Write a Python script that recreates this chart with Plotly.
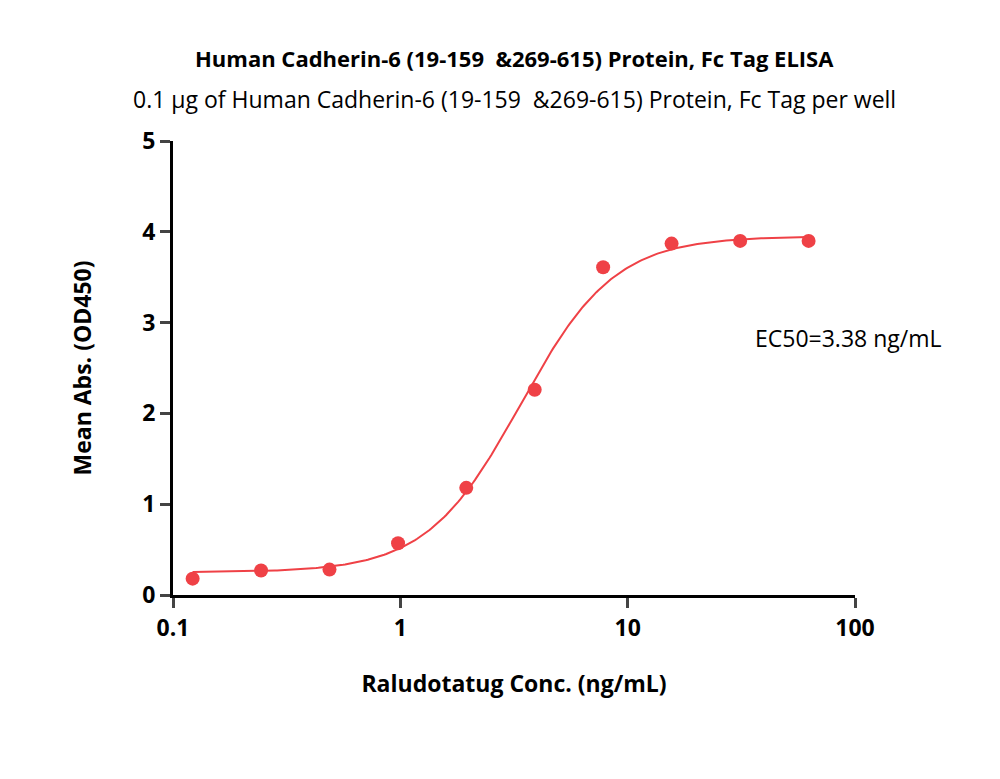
import numpy as np
import plotly.graph_objects as go

conc = [0.122, 0.244, 0.488, 0.977, 1.95, 3.9, 7.8, 15.6, 31.25, 62.5]
od = [0.18, 0.27, 0.28, 0.57, 1.18, 2.26, 3.61, 3.87, 3.90, 3.90]
# 4PL fit parameters
bottom, top, ec50, hill = 0.25, 3.95, 3.38, 2.1

xs = np.logspace(np.log10(0.122), np.log10(62.5), 300)
ys = bottom + (top - bottom) / (1 + (ec50 / xs) ** hill)

red = "#ef4146"
fig = go.Figure()
fig.add_trace(go.Scatter(x=xs, y=ys, mode="lines", line=dict(color=red, width=2), showlegend=False))
fig.add_trace(go.Scatter(x=conc, y=od, mode="markers", marker=dict(color=red, size=14), showlegend=False))

font = "Open Sans"
ph = 779 - 133 - 192
fig.update_layout(
    width=1000, height=779, plot_bgcolor="white", paper_bgcolor="white",
    margin=dict(l=165, r=153, t=133, b=192, autoexpand=False),
    font=dict(family=font, color="black"),
    annotations=[
        dict(text="<b>Human Cadherin-6 (19-159  &269-615) Protein, Fc Tag ELISA</b>", x=0.5, xref="paper",
             y=1 + (133 - 50) / ph, yref="paper", showarrow=False, font=dict(size=22), yanchor="middle"),
        dict(text="0.1 µg of Human Cadherin-6 (19-159  &269-615) Protein, Fc Tag per well", x=0.5, xref="paper",
             y=1 + (133 - 91) / ph, yref="paper", showarrow=False, font=dict(size=23), yanchor="middle"),
        dict(text="EC50=3.38 ng/mL", x=1.97, y=2.83, xref="x", yref="y", showarrow=False,
             font=dict(size=23)),
    ],
    xaxis=dict(type="log", range=[-1, 2], showline=True, linecolor="black", linewidth=3,
               ticks="outside", ticklen=10, tickwidth=3, tickvals=[0.1, 1, 10, 100],
               ticktext=["<b>0.1</b>", "<b>1</b>", "<b>10</b>", "<b>100</b>"],
               tickfont=dict(size=23), showgrid=False, zeroline=False, automargin=False,
               title=dict(text="<b>Raludotatug Conc. (ng/mL)</b>", font=dict(size=23), standoff=35)),
    yaxis=dict(range=[0, 5], showline=True, linecolor="black", linewidth=3,
               ticks="outside", ticklen=10, tickwidth=3, tickvals=[0, 1, 2, 3, 4, 5],
               ticktext=["<b>%d</b>" % v for v in range(6)],
               tickfont=dict(size=23), showgrid=False, zeroline=False, automargin=False,
               title=dict(text="<b>Mean Abs. (OD450)</b>", font=dict(size=23), standoff=45)),
)
fig.write_html("out.html")
